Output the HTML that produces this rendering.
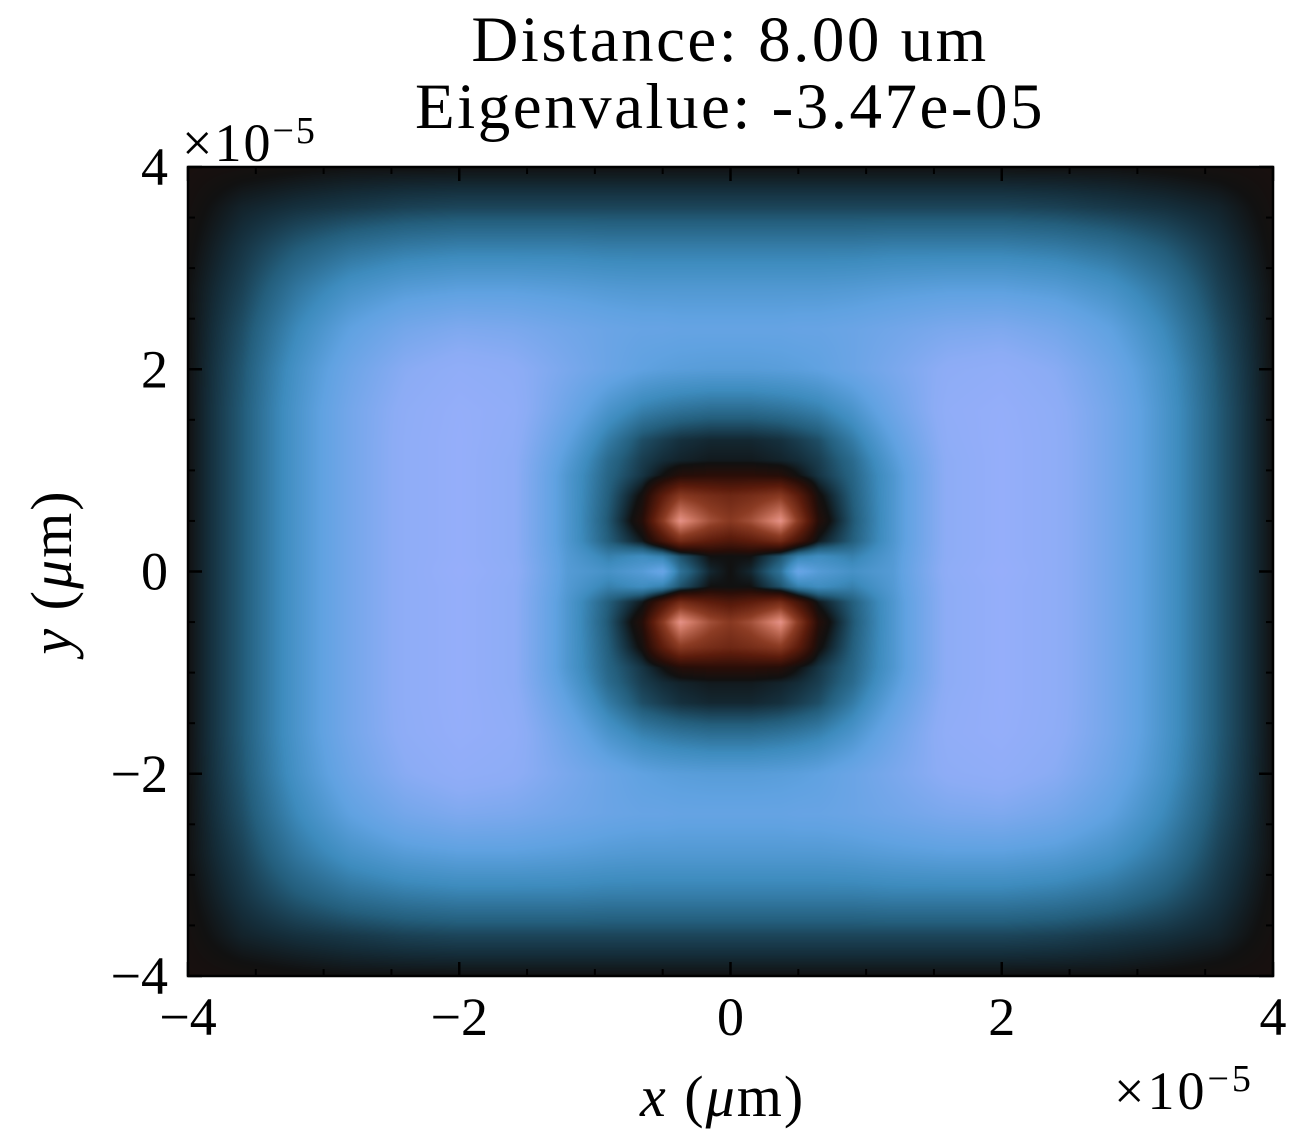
<!DOCTYPE html>
<html><head><meta charset="utf-8">
<style>
body{margin:0;background:#fff;width:1306px;height:1142px;overflow:hidden;position:relative;font-family:"Liberation Serif","DejaVu Serif",serif;color:#000}
.t{position:absolute;white-space:nowrap;line-height:1}
canvas{position:absolute;left:188px;top:167px}
svg{position:absolute;left:0;top:0}
</style></head><body>
<canvas id="hm" width="1085" height="809"></canvas>
<svg id="ax" width="1306" height="1142"></svg>
<script>
const xNodes=[-4,-3.6,-3.2,-2.8,-2.4,-2,-1.6,-1.2,-0.9,-0.65,-0.5,-0.37,-0.15,0,0.15,0.37,0.5,0.65,0.9,1.2,1.6,2,2.4,2.8,3.2,3.6,4];
const yNodes=[4,3.6,3.2,2.8,2.4,2,1.6,1.3,1.1,0.95,0.75,0.5,0.3,0.15,0,-0.15,-0.3,-0.5,-0.75,-0.95,-1.1,-1.3,-1.6,-2,-2.4,-2.8,-3.2,-3.6,-4];
const halfRows=[
[0.03,0.02,0.01,0,0,0,0,0,0,0,0,0,0,0],
[0.02,-0.04,-0.07,-0.09,-0.11,-0.12,-0.12,-0.12,-0.12,-0.12,-0.12,-0.12,-0.12,-0.12],
[0.01,-0.08,-0.17,-0.24,-0.28,-0.3,-0.3,-0.3,-0.29,-0.29,-0.29,-0.29,-0.29,-0.29],
[0,-0.11,-0.26,-0.38,-0.45,-0.48,-0.48,-0.46,-0.44,-0.43,-0.43,-0.43,-0.43,-0.43],
[0,-0.14,-0.33,-0.5,-0.62,-0.68,-0.66,-0.6,-0.56,-0.54,-0.54,-0.53,-0.53,-0.53],
[0,-0.16,-0.38,-0.58,-0.74,-0.82,-0.78,-0.65,-0.56,-0.5,-0.48,-0.47,-0.46,-0.46],
[0,-0.17,-0.4,-0.62,-0.79,-0.87,-0.82,-0.58,-0.4,-0.3,-0.27,-0.25,-0.23,-0.23],
[0,-0.17,-0.4,-0.62,-0.8,-0.88,-0.8,-0.5,-0.28,-0.14,-0.1,-0.07,-0.05,-0.05],
[0,-0.17,-0.4,-0.62,-0.8,-0.88,-0.78,-0.45,-0.22,-0.1,-0.06,-0.04,-0.02,-0.02],
[0,-0.17,-0.4,-0.62,-0.8,-0.88,-0.78,-0.42,-0.2,-0.08,0,0.08,0.1,0.1],
[0,-0.17,-0.4,-0.62,-0.8,-0.88,-0.78,-0.42,-0.18,0.02,0.3,0.5,0.42,0.38],
[0,-0.17,-0.4,-0.62,-0.8,-0.88,-0.78,-0.42,-0.16,0.08,0.5,0.88,0.6,0.5],
[0,-0.17,-0.4,-0.62,-0.8,-0.88,-0.78,-0.42,-0.18,-0.02,0.2,0.4,0.3,0.25],
[0,-0.17,-0.4,-0.62,-0.8,-0.88,-0.78,-0.44,-0.3,-0.35,-0.3,-0.15,0,0],
[0,-0.17,-0.4,-0.62,-0.8,-0.9,-0.8,-0.45,-0.38,-0.45,-0.55,-0.25,-0.05,0]];
const cmapStops=[[0,[158,176,255]],[0.12,[140,172,245]],[0.25,[96,162,225]],[0.33,[62,140,190]],[0.41,[36,95,125]],[0.47,[20,44,56]],[0.5,[17,17,17]],[0.55,[42,14,8]],[0.65,[92,28,12]],[0.76,[140,60,36]],[0.88,[205,120,100]],[1,[255,173,173]]];
const xTicks=[-4,-2,0,2,4], yTicks=[-4,-2,0,2,4];
const xTickLabels=["−4","−2","0","2","4"], yTickLabels=["−4","−2","0","2","4"];
const grid=[];
const nh=halfRows.length;
for(let r=0;r<yNodes.length;r++){const src=halfRows[r<nh?r:yNodes.length-1-r];grid.push(src.concat(src.slice(0,src.length-1).reverse()));}
const L=188,T=167,W=1085,H=809;
const sx=v=>L+(v+4)/8*W, sy=v=>T+(4-v)/8*H;
function cmap(v){let t=(v+1)/2;t=Math.max(0,Math.min(1,t));for(let i=1;i<cmapStops.length;i++){if(t<=cmapStops[i][0]){const a=cmapStops[i-1],b=cmapStops[i];const f=(t-a[0])/(b[0]-a[0]);return a[1].map((c,k)=>c+(b[1][k]-c)*f);}}return cmapStops[cmapStops.length-1][1];}
function seg(nodes,v,desc){for(let i=0;i<nodes.length-1;i++){const a=nodes[i],b=nodes[i+1];if(desc?(v<=a&&v>=b):(v>=a&&v<=b)){return [i,(v-a)/(b-a)];}}return [nodes.length-2,1];}
const cv=document.getElementById('hm'),ctx=cv.getContext('2d'),img=ctx.createImageData(W,H);
const xs=[];for(let px=0;px<W;px++)xs.push(seg(xNodes,(px+0.5)/W*8-4,false));
for(let py=0;py<H;py++){const [j,fy]=seg(yNodes,4-(py+0.5)/H*8,true);const r0=grid[j],r1=grid[j+1];
for(let px=0;px<W;px++){const [i,fx]=xs[px];const v=(r0[i]*(1-fx)+r0[i+1]*fx)*(1-fy)+(r1[i]*(1-fx)+r1[i+1]*fx)*fy;const c=cmap(v);const o=(py*W+px)*4;img.data[o]=c[0];img.data[o+1]=c[1];img.data[o+2]=c[2];img.data[o+3]=255;}}
ctx.putImageData(img,0,0);
const svg=document.getElementById('ax'),NS='http://www.w3.org/2000/svg';
function ln(x1,y1,x2,y2,w,name){const e=document.createElementNS(NS,'line');e.setAttribute('x1',x1);e.setAttribute('y1',y1);e.setAttribute('x2',x2);e.setAttribute('y2',y2);e.setAttribute('stroke','#000');e.setAttribute('stroke-width',w);


svg.appendChild(e);}
const fr=document.createElementNS(NS,'rect');fr.setAttribute('x',L);fr.setAttribute('y',T);fr.setAttribute('width',W);fr.setAttribute('height',H);fr.setAttribute('fill','none');fr.setAttribute('stroke','#000');fr.setAttribute('stroke-width',2.5);


svg.appendChild(fr);
for(let k=-8;k<=8;k++){const v=k/2,maj=k%4===0,len=maj?14:7,w=maj?2.5:2;
ln(sx(v),T+H,sx(v),T+H-len,w,'x-tick');ln(sx(v),T,sx(v),T+len,w,'x-tick-top');
ln(L,sy(v),L+len,sy(v),w,'y-tick');ln(L+W,sy(v),L+W-len,sy(v),w,'y-tick-right');}
function txt(x,y,s,anchor,name){const e=document.createElementNS(NS,'text');e.setAttribute('x',x);e.setAttribute('y',y);e.setAttribute('text-anchor',anchor);e.setAttribute('font-family','"Liberation Serif", serif');e.setAttribute('font-size','54');e.textContent=s;


svg.appendChild(e);}
xTicks.forEach((v,i)=>txt(sx(v),1035,xTickLabels[i],'middle','x-tick-label'));
yTicks.forEach((v,i)=>txt(L-20,sy(v)+18,yTickLabels[i],'end','y-tick-label'));
</script>
<div class="t" style="left:0;width:1460px;text-align:center;top:8px;font-size:65px;letter-spacing:2.5px">Distance: 8.00 um</div>
<div class="t" style="left:0;width:1460px;text-align:center;top:75px;font-size:65px;letter-spacing:2.5px">Eigenvalue: -3.47e-05</div>
<div class="t" style="left:182px;top:112px;font-size:54px;letter-spacing:2px">×10<sup style="font-size:38px;vertical-align:18px">−5</sup></div>
<div class="t" style="left:1114px;top:1060px;font-size:54px;letter-spacing:3px">×10<sup style="font-size:38px;vertical-align:18px">−5</sup></div>
<div class="t" style="left:640px;top:1068px;font-size:58px;letter-spacing:2px"><i>x</i> (<i>μ</i>m)</div>
<div class="t" style="left:52px;top:572px;font-size:58px;letter-spacing:2px;transform:translate(-50%,-50%) rotate(-90deg)"><i>y</i> (<i>μ</i>m)</div>
</body></html>
